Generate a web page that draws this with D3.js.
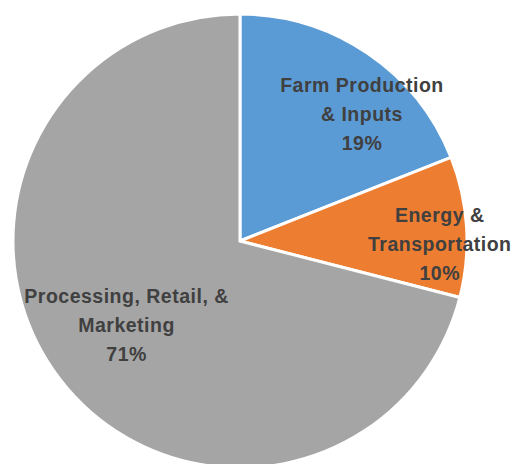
<!DOCTYPE html>
<html>
<head>
<meta charset="utf-8">
<script src="https://cdn.jsdelivr.net/npm/d3@7"></script>
<style>
  html, body { margin: 0; padding: 0; background: #fff; }
  svg { display: block; }
</style>
</head>
<body>
<svg id="chart" width="517" height="464"></svg>
<script>
// Share of the food dollar by supply-chain stage
const categories = ["Farm Production\n& Inputs", "Energy &\nTransportation", "Processing, Retail, &\nMarketing"];
const shares = [19, 10, 71];
const colors = ["#5B9BD5", "#ED7D31", "#A5A5A5"];

// Fine placement of each label relative to its slice centroid (px)
const labelNudge = [[32, 5], [40, 13], [13, -14]];

const cx = 240, cy = 241, radius = 227;

const svg = d3.select("#chart");
const g = svg.append("g").attr("transform", `translate(${cx},${cy})`);

const pie = d3.pie().sort(null).value(d => d.value);
const data = categories.map((c, i) => ({ name: c, value: shares[i], color: colors[i], nudge: labelNudge[i] }));
const arcs = pie(data);

const arc = d3.arc().innerRadius(0).outerRadius(radius);
const labelArc = d3.arc().innerRadius(radius * 0.705).outerRadius(radius * 0.705);

g.selectAll("path.slice")
  .data(arcs)
  .join("path")
  .attr("class", "slice")
  .attr("d", arc)
  .attr("fill", d => d.data.color)
  .attr("stroke", "#fff")
  .attr("stroke-width", 3)
  .attr("stroke-linejoin", "miter");

const lineH = 29;
const labels = g.selectAll("text.label")
  .data(arcs)
  .join("text")
  .attr("class", "label")
  .attr("text-anchor", "middle")
  .attr("font-family", "'Liberation Sans', Arial, sans-serif")
  .attr("font-weight", "bold")
  .attr("font-size", 19.5)
  .attr("letter-spacing", 0.5)
  .attr("fill", "#404040")
  .attr("transform", d => {
    const [x, y] = labelArc.centroid(d);
    return `translate(${x + d.data.nudge[0]},${y + d.data.nudge[1]})`;
  });

labels.each(function(d) {
  const lines = d.data.name.split("\n").concat([d.data.value + "%"]);
  const t = d3.select(this);
  const n = lines.length;
  lines.forEach((s, i) => {
    t.append("tspan")
      .attr("x", 0)
      .attr("y", (i - (n - 1) / 2) * lineH + 7)
      .text(s);
  });
});
</script>
</body>
</html>
